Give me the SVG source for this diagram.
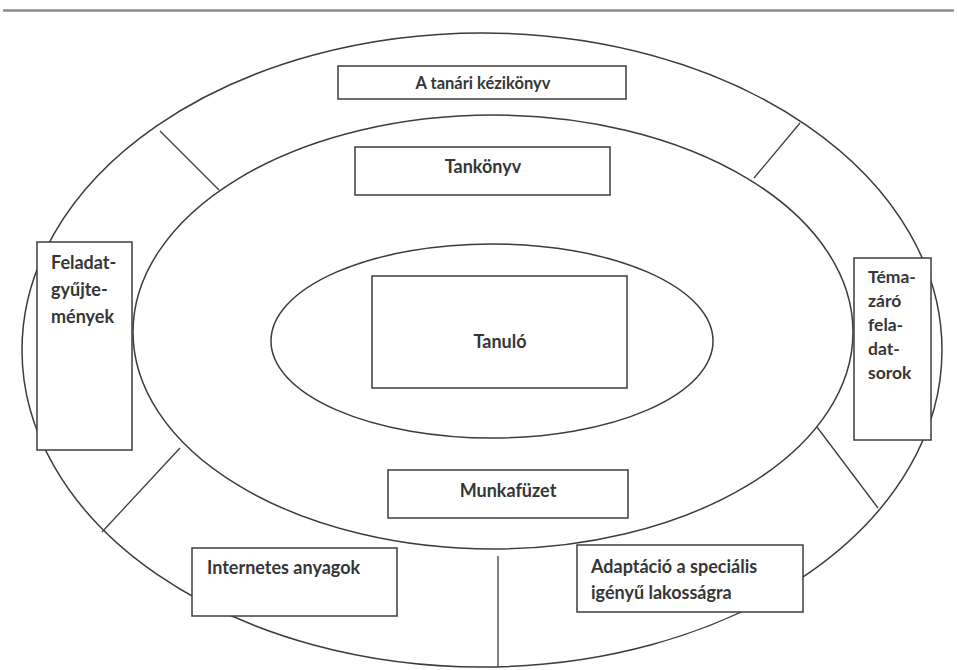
<svg xmlns="http://www.w3.org/2000/svg" width="957" height="670" viewBox="0 0 957 670">
<style>
.ring{fill:none;stroke:#3c3c3c;stroke-width:1.5}
.box{fill:#fff;stroke:#3c3c3c;stroke-width:1.5}
.div{stroke:#3c3c3c;stroke-width:1.3;fill:none}
text{font-family:Lato,"Open Sans","Liberation Sans",sans-serif;font-weight:bold;font-size:18px;fill:#363636}
.c{text-anchor:middle}
</style>
<rect width="957" height="670" fill="#fff"/>
<line x1="3" y1="10.5" x2="954" y2="10.5" stroke="#8a8a8a" stroke-width="2.5"/>
<g id="rings">
<ellipse class="ring" cx="482" cy="350" rx="460" ry="317"/>
<ellipse class="ring" cx="493" cy="332" rx="360" ry="217"/>
<ellipse class="ring" cx="492" cy="341" rx="221" ry="97"/>
</g>
<g id="connectors">
<line class="div" x1="160" y1="131" x2="219" y2="190"/>
<line class="div" x1="800" y1="123" x2="754" y2="178"/>
<line class="div" x1="102" y1="532" x2="180" y2="448"/>
<line class="div" x1="817" y1="427" x2="878" y2="508"/>
<line class="div" x1="498" y1="556" x2="498" y2="667"/>
</g>
<g id="kezikonyv"><rect class="box" x="338" y="66" width="288" height="33"/><text class="c" x="483" y="89" style="font-size:16.5px">A tanári kézikönyv</text></g>
<g id="tankonyv"><rect class="box" x="355" y="147" width="255" height="48"/><text class="c" x="483" y="173">Tankönyv</text></g>
<g id="tanulo"><rect class="box" x="372" y="276" width="255" height="112"/><text class="c" x="500" y="348">Tanuló</text></g>
<g id="munkafuzet"><rect class="box" x="388" y="470" width="240" height="48"/><text class="c" x="508" y="497">Munkafüzet</text></g>
<g id="feladatgyujtemenyek"><rect class="box" x="37" y="242" width="95" height="208"/>
<text x="51" y="269">Feladat-</text><text x="51" y="296">gyűjte-</text><text x="51" y="323">mények</text></g>
<g id="temazaro"><rect class="box" x="854" y="258" width="77" height="182"/>
<text x="868" y="283" style="font-size:17.5px">Téma-</text><text x="868" y="307" style="font-size:17.5px">záró</text><text x="868" y="331" style="font-size:17.5px">fela-</text><text x="868" y="355" style="font-size:17.5px">dat-</text><text x="868" y="379" style="font-size:17.5px">sorok</text></g>
<g id="internetes"><rect class="box" x="192" y="548" width="205" height="68"/><text x="207" y="574">Internetes anyagok</text></g>
<g id="adaptacio"><rect class="box" x="577" y="545" width="226" height="67"/><text x="591" y="573">Adaptáció a speciális</text><text x="591" y="599">igényű lakosságra</text></g>
</svg>
